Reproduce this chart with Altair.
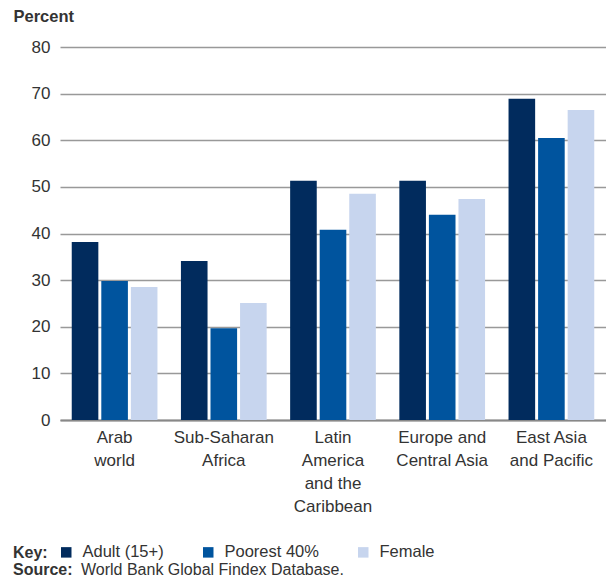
import altair as alt
import pandas as pd

regions = ["Arab|world", "Sub-Saharan|Africa", "Latin|America|and the|Caribbean",
           "Europe and|Central Asia", "East Asia|and Pacific"]
series = ["Adult (15+)", "Poorest 40%", "Female"]
adult = [38.2, 34.1, 51.3, 51.3, 68.9]
poorest = [29.8, 19.7, 40.8, 44.0, 60.5]
female = [28.5, 25.1, 48.5, 47.4, 66.5]
colors = ["#012B5D", "#00549E", "#C7D5EE"]
y_ticks = [0, 10, 20, 30, 40, 50, 60, 70, 80]
key_label = ["Key:"]
source_bold = ["Source:"]
source_text = ["World Bank Global Findex Database."]

rows = []
for s, vals in zip(series, [adult, poorest, female]):
    for r, v in zip(regions, vals):
        rows.append({"region": r, "series": s, "value": v})
df = pd.DataFrame(rows)

FONT = "Liberation Sans"
TXT = "#333333"

bars = alt.Chart(df).mark_bar().encode(
    x=alt.X("region:N", sort=regions,
            scale=alt.Scale(paddingInner=0.215, paddingOuter=0.1075),
            axis=alt.Axis(title=None, labelAngle=0, ticks=False,
                          labelExpr="split(datum.label, '|')",
                          labelFont=FONT, labelFontSize=17, labelColor=TXT,
                          labelLineHeight=23, labelPadding=9,
                          domainColor="#888888", domainWidth=2)),
    xOffset=alt.XOffset("series:N", sort=series, scale=alt.Scale(paddingInner=0.1)),
    y=alt.Y("value:Q", scale=alt.Scale(domain=[0, 80], nice=False),
            axis=alt.Axis(values=y_ticks, title="Percent", titleAngle=0,
                          titleAlign="left", titleBaseline="middle",
                          titleX=-47, titleY=-31, titleFont=FONT,
                          titleFontSize=16.5, titleFontWeight="bold", titleColor=TXT,
                          labelFont=FONT, labelFontSize=17, labelColor=TXT,
                          labelPadding=10, ticks=False, domain=False,
                          grid=True, gridColor="#999999", gridWidth=1.5)),
    color=alt.Color("series:N", sort=series,
                    scale=alt.Scale(domain=series, range=colors),
                    legend=alt.Legend(title=None, orient="none", legendX=-2, legendY=497,
                                      direction="horizontal", symbolType="square",
                                      symbolSize=110, symbolStrokeWidth=0,
                                      labelFont=FONT, labelFontSize=16.5, labelColor=TXT,
                                      columnPadding=36, labelOffset=8)),
)

key = alt.Chart(pd.DataFrame({"t": key_label})).mark_text(
    align="left", baseline="middle", font=FONT, fontSize=16, fontWeight="bold", color=TXT
).encode(text="t:N", x=alt.value(-47), y=alt.value(506))

src_b = alt.Chart(pd.DataFrame({"t": source_bold})).mark_text(
    align="left", baseline="middle", font=FONT, fontSize=16, fontWeight="bold", color=TXT
).encode(text="t:N", x=alt.value(-47), y=alt.value(523))

src_t = alt.Chart(pd.DataFrame({"t": source_text})).mark_text(
    align="left", baseline="middle", font=FONT, fontSize=16, color=TXT
).encode(text="t:N", x=alt.value(21), y=alt.value(523))

chart = alt.layer(bars, key, src_b, src_t).properties(
    width=546, height=373,
    autosize=alt.AutoSizeParams(type="none"),
    padding={"left": 52, "top": 39, "right": 0, "bottom": 160},
).configure_view(stroke=None)

chart.save("out.html", embed_options={"renderer": "svg", "actions": False})
